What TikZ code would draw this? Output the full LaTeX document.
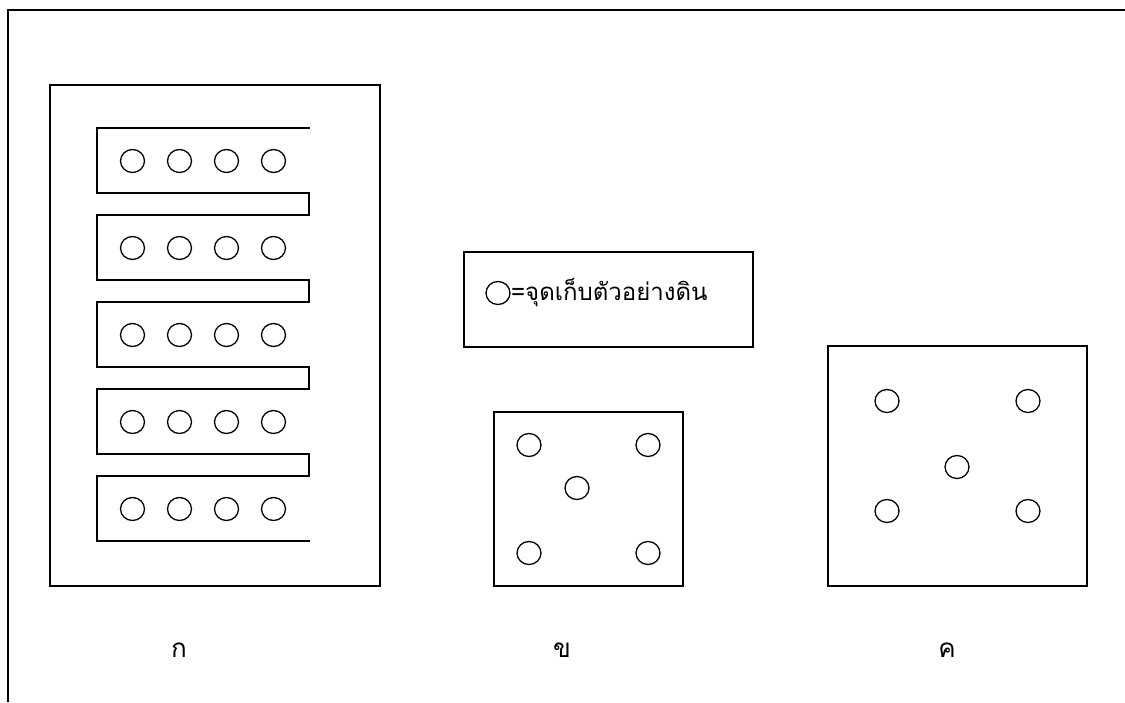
\documentclass[tikz,border=0pt]{standalone}
\usepackage{fontspec}
\newfontfamily\thaifont[Script=Thai]{Loma}
\begin{document}
\begin{tikzpicture}[x=1pt,y=-1pt,
  frameline/.style={line width=1.4pt,line join=miter},
  plot/.style={draw,line width=1.4pt},
  spot/.style={line width=1.3pt},
  label/.style={font=\thaifont\fontsize{26}{30}\selectfont,anchor=base,inner sep=0pt}]
\useasboundingbox (0,0) rectangle (1125,702);

% outer frame, open on the right and bottom
\draw[frameline] (1125,10) -- (8,10) -- (8,702);

% plot A: serpentine sampling lanes
\draw[plot] (50,85) rectangle (380,586);
\draw[frameline] (310,128) -- (97,128) -- (97,193) -- (309,193) -- (309,215)
  -- (97,215) -- (97,280) -- (309,280) -- (309,302)
  -- (97,302) -- (97,367) -- (309,367) -- (309,389)
  -- (97,389) -- (97,454) -- (309,454) -- (309,476)
  -- (97,476) -- (97,541) -- (310,541);
\foreach \r in {0,...,4}{
  \foreach \c in {0,...,3}{
    \draw[spot] (132.5+47*\c,161+87*\r) ellipse [x radius=12, y radius=11.5];
  }
}

% legend
\draw[plot] (464,252) rectangle (753,347);
\draw[spot] (498,293) ellipse [x radius=12, y radius=11.5];
\node[label,font=\thaifont\fontsize{24}{28}\selectfont,anchor=base west] (legendtext) at (511,300) {=จุดเก็บตัวอย่างดิน};

% plot B
\draw[plot] (494,412) rectangle (683,586);
\foreach \p in {(529,445),(648,445),(577,488),(529,553),(648,553)}{
  \draw[spot] \p ellipse [x radius=12, y radius=11.5];
}

% plot C
\draw[plot] (828,346) rectangle (1087,586);
\foreach \p in {(887,401),(1028,401),(957,467),(887,511),(1028,511)}{
  \draw[spot] \p ellipse [x radius=12, y radius=11.5];
}

% captions
\node[label] (capA) at (179,657) {ก};
\node[label] (capB) at (562,657) {ข};
\node[label] (capC) at (947,657) {ค};
\end{tikzpicture}
\end{document}
